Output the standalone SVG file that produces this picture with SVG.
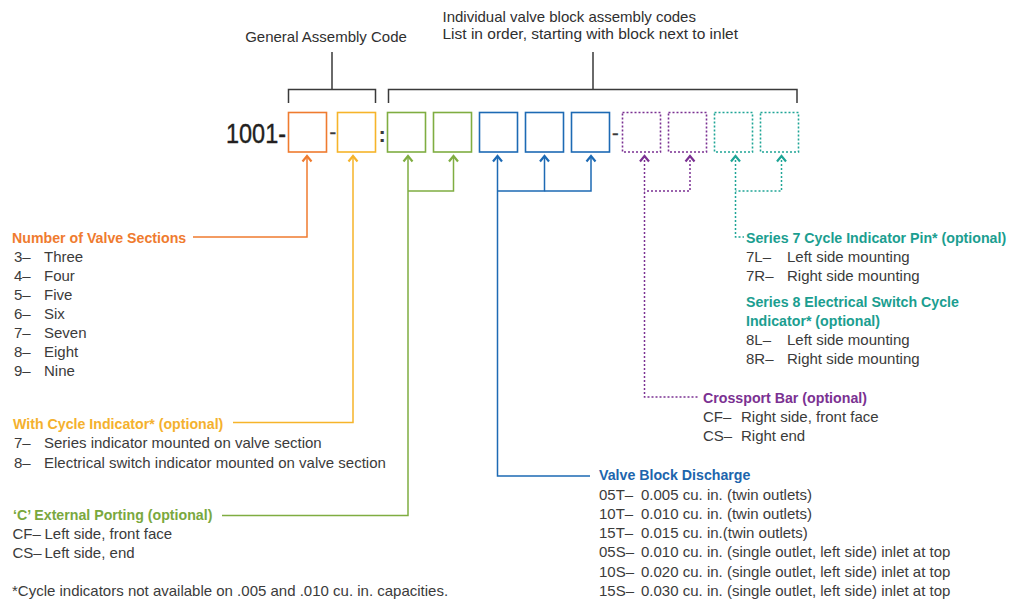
<svg xmlns="http://www.w3.org/2000/svg" width="1013" height="602" viewBox="0 0 1013 602">
<style>
  text{font-family:"Liberation Sans",Arial,sans-serif;}
  .body{font-size:15px;fill:#3b3b3b;}
  .head{font-size:14.2px;font-weight:bold;}
  .top{font-size:15px;fill:#2f2f2f;}
  .box{fill:#fff;stroke-width:1.6;}
  .dotbox{fill:#fff;stroke-width:1.6;stroke-dasharray:2 2;}
  .ln{fill:none;stroke-width:1.5;}
  .dot{fill:none;stroke-width:1.5;stroke-dasharray:2 2;}
  .brk{fill:none;stroke:#3a3a3a;stroke-width:1.5;}
  .ah{fill:none;stroke-width:2.2;stroke-linejoin:miter;}
  .c-or{stroke:#ef7b2f;} .f-or{fill:#ef7b2f;}
  .c-ye{stroke:#f6b42a;} .f-ye{fill:#f4b12e;}
  .c-gr{stroke:#7fad41;} .f-gr{fill:#7aa83e;}
  .c-bl{stroke:#1d6ab4;} .f-bl{fill:#1d65ad;}
  .c-pu{stroke:#7b3192;} .f-pu{fill:#7b3192;}
  .c-te{stroke:#1fa596;} .f-te{fill:#1b9e90;}
</style>
<defs>
  <marker id="ah-or" markerUnits="userSpaceOnUse" markerWidth="12" markerHeight="12" viewBox="0 0 12 12" refX="10" refY="6" orient="auto-start-reverse"><path class="ah c-or" d="M4.5,1.5 L10,6 L4.5,10.5"/></marker>
  <marker id="ah-ye" markerUnits="userSpaceOnUse" markerWidth="12" markerHeight="12" viewBox="0 0 12 12" refX="10" refY="6" orient="auto-start-reverse"><path class="ah c-ye" d="M4.5,1.5 L10,6 L4.5,10.5"/></marker>
  <marker id="ah-gr" markerUnits="userSpaceOnUse" markerWidth="12" markerHeight="12" viewBox="0 0 12 12" refX="10" refY="6" orient="auto-start-reverse"><path class="ah c-gr" d="M4.5,1.5 L10,6 L4.5,10.5"/></marker>
  <marker id="ah-bl" markerUnits="userSpaceOnUse" markerWidth="12" markerHeight="12" viewBox="0 0 12 12" refX="10" refY="6" orient="auto-start-reverse"><path class="ah c-bl" d="M4.5,1.5 L10,6 L4.5,10.5"/></marker>
  <marker id="ah-pu" markerUnits="userSpaceOnUse" markerWidth="12" markerHeight="12" viewBox="0 0 12 12" refX="10" refY="6" orient="auto-start-reverse"><path class="ah c-pu" d="M4.5,1.5 L10,6 L4.5,10.5"/></marker>
  <marker id="ah-te" markerUnits="userSpaceOnUse" markerWidth="12" markerHeight="12" viewBox="0 0 12 12" refX="10" refY="6" orient="auto-start-reverse"><path class="ah c-te" d="M4.5,1.5 L10,6 L4.5,10.5"/></marker>
</defs>
<rect width="1013" height="602" fill="#fff"/>

<!-- top captions and brackets -->
<g id="general-assembly-code">
  <text class="top" x="326" y="41.5" text-anchor="middle">General Assembly Code</text>
  <path class="brk" d="M288.5,103 V89.5 H375.5 V103 M332,89.5 V52"/>
</g>
<g id="individual-block-codes">
  <text class="top" x="442.5" y="21.5">Individual valve block assembly codes</text>
  <text class="top" x="442.5" y="38.5" style="font-size:15.5px">List in order, starting with block next to inlet</text>
  <path class="brk" d="M388.5,103 V89.5 H797 V103 M593,89.5 V52"/>
</g>

<!-- code row -->
<g id="code-prefix">
  <text x="226" y="143" style="font-size:28px;fill:#231f20;stroke:#231f20;stroke-width:0.4" textLength="60" lengthAdjust="spacingAndGlyphs">1001-</text>
  <text x="329.5" y="139" style="font-size:20px;fill:#3a3a3a;stroke:#3a3a3a;stroke-width:0.4">-</text>
  <text x="378.5" y="141.8" style="font-size:22px;font-weight:bold;fill:#3a3a3a">:</text>
  <text x="612" y="139.5" style="font-size:20px;fill:#3a3a3a;stroke:#3a3a3a;stroke-width:0.4">-</text>
</g>
<g id="box-sections"><rect class="box c-or" x="288.5" y="112.5" width="38" height="39.5"/></g>
<g id="box-cycle-indicator"><rect class="box c-ye" x="337.5" y="112.5" width="38" height="39.5"/></g>
<g id="box-porting-1"><rect class="box c-gr" x="387.5" y="112.5" width="38" height="39.5"/></g>
<g id="box-porting-2"><rect class="box c-gr" x="433.5" y="112.5" width="38" height="39.5"/></g>
<g id="box-discharge-1"><rect class="box c-bl" x="479.5" y="112.5" width="38" height="39.5"/></g>
<g id="box-discharge-2"><rect class="box c-bl" x="525.5" y="112.5" width="38" height="39.5"/></g>
<g id="box-discharge-3"><rect class="box c-bl" x="571.5" y="112.5" width="38" height="39.5"/></g>
<g id="box-crossport-1"><rect class="dotbox c-pu" x="622.5" y="112.5" width="38" height="39.5"/></g>
<g id="box-crossport-2"><rect class="dotbox c-pu" x="668.5" y="112.5" width="38" height="39.5"/></g>
<g id="box-pin-1"><rect class="dotbox c-te" x="714.5" y="112.5" width="38" height="39.5"/></g>
<g id="box-pin-2"><rect class="dotbox c-te" x="760.5" y="112.5" width="38" height="39.5"/></g>

<!-- connectors -->
<g id="connectors">
  <path class="ln c-or" marker-start="url(#ah-or)" d="M307,156 V237 H193"/>
  <path class="ln c-ye" marker-start="url(#ah-ye)" d="M353,156 V422.5 H233"/>
  <path class="ln c-gr" marker-start="url(#ah-gr)" d="M408,156 V515.5 H222"/>
  <path class="ln c-gr" marker-start="url(#ah-gr)" d="M453.5,156 V191 H408"/>
  <path class="ln c-bl" marker-start="url(#ah-bl)" d="M497.5,156 V476 H590"/>
  <path class="ln c-bl" marker-start="url(#ah-bl)" d="M544.5,156 V191 H497.5"/>
  <path class="ln c-bl" marker-start="url(#ah-bl)" d="M591,156 V191 H544.5"/>
  <path class="dot c-pu" marker-start="url(#ah-pu)" d="M644.5,156 V397 H699"/>
  <path class="dot c-pu" marker-start="url(#ah-pu)" d="M690,156 V191 H644.5"/>
  <path class="dot c-te" marker-start="url(#ah-te)" d="M735.5,156 V237 H744"/>
  <path class="dot c-te" marker-start="url(#ah-te)" d="M781.5,156 V191 H735.5"/>
</g>

<!-- labels -->
<g id="label-sections">
  <text class="head f-or" x="12" y="243">Number of Valve Sections</text>
  <g class="body">
    <text x="14" y="262">3–</text><text x="44" y="262">Three</text>
    <text x="14" y="281">4–</text><text x="44" y="281">Four</text>
    <text x="14" y="300">5–</text><text x="44" y="300">Five</text>
    <text x="14" y="319">6–</text><text x="44" y="319">Six</text>
    <text x="14" y="338">7–</text><text x="44" y="338">Seven</text>
    <text x="14" y="357">8–</text><text x="44" y="357">Eight</text>
    <text x="14" y="376">9–</text><text x="44" y="376">Nine</text>
  </g>
</g>
<g id="label-cycle-indicator">
  <text class="head f-ye" x="13" y="429">With Cycle Indicator* (optional)</text>
  <g class="body">
    <text x="14" y="448">7–</text><text x="44" y="448">Series indicator mounted on valve section</text>
    <text x="14" y="467.5">8–</text><text x="44" y="467.5">Electrical switch indicator mounted on valve section</text>
  </g>
</g>
<g id="label-porting">
  <text class="head f-gr" x="13" y="519.5">‘C’ External Porting (optional)</text>
  <g class="body">
    <text x="12.5" y="538.5">CF–</text><text x="44.5" y="538.5">Left side, front face</text>
    <text x="12.5" y="557.5">CS–</text><text x="44.5" y="557.5">Left side, end</text>
  </g>
</g>
<g id="footnote">
  <text class="body" x="12" y="596">*Cycle indicators not available on .005 and .010 cu. in. capacities.</text>
</g>
<g id="label-discharge">
  <text class="head f-bl" x="599" y="480">Valve Block Discharge</text>
  <g class="body">
    <text x="599" y="499.5">05T–</text><text x="641" y="499.5">0.005 cu. in. (twin outlets)</text>
    <text x="599" y="518.8">10T–</text><text x="641" y="518.8">0.010 cu. in. (twin outlets)</text>
    <text x="599" y="538">15T–</text><text x="641" y="538">0.015 cu. in.(twin outlets)</text>
    <text x="599" y="557.3">05S–</text><text x="641" y="557.3">0.010 cu. in. (single outlet, left side) inlet at top</text>
    <text x="599" y="576.6">10S–</text><text x="641" y="576.6">0.020 cu. in. (single outlet, left side) inlet at top</text>
    <text x="599" y="596">15S–</text><text x="641" y="596">0.030 cu. in. (single outlet, left side) inlet at top</text>
  </g>
</g>
<g id="label-crossport">
  <text class="head f-pu" x="703" y="402.5">Crossport Bar (optional)</text>
  <g class="body">
    <text x="703" y="421.7">CF–</text><text x="741" y="421.7">Right side, front face</text>
    <text x="703" y="440.7">CS–</text><text x="741" y="440.7">Right end</text>
  </g>
</g>
<g id="label-series7">
  <text class="head f-te" x="746" y="242.5">Series 7 Cycle Indicator Pin* (optional)</text>
  <g class="body">
    <text x="746" y="261.7">7L–</text><text x="787" y="261.7">Left side mounting</text>
    <text x="746" y="280.7">7R–</text><text x="787" y="280.7">Right side mounting</text>
  </g>
</g>
<g id="label-series8">
  <text class="head f-te" x="746" y="307.3">Series 8 Electrical Switch Cycle</text>
  <text class="head f-te" x="746" y="326">Indicator* (optional)</text>
  <g class="body">
    <text x="746" y="345">8L–</text><text x="787" y="345">Left side mounting</text>
    <text x="746" y="364">8R–</text><text x="787" y="364">Right side mounting</text>
  </g>
</g>
</svg>
